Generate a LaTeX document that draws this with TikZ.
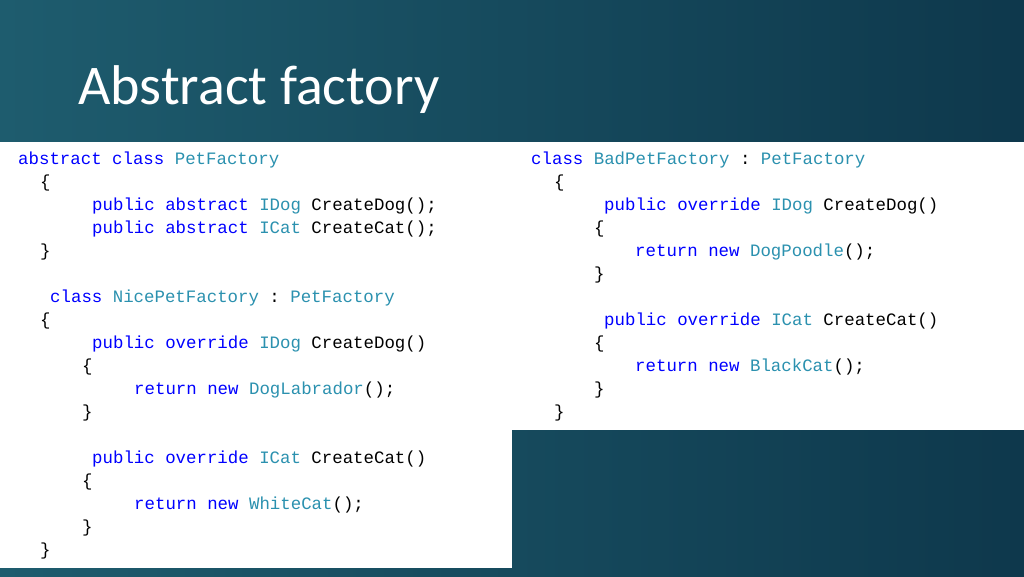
\documentclass[tikz,border=0pt]{standalone}
\usepackage{fontspec}
\setmainfont{Carlito}
\setmonofont{Liberation Mono}
\usepackage{xcolor}
\definecolor{kwblue}{RGB}{0,0,255}
\definecolor{tyteal}{RGB}{43,145,175}
\definecolor{bgleft}{RGB}{30,92,110}
\definecolor{bgright}{RGB}{14,56,76}
\newcommand{\kw}[1]{\textcolor{kwblue}{#1}}
\newcommand{\ty}[1]{\textcolor{tyteal}{#1}}
\tikzset{
  codeline/.style={anchor=base west, inner sep=0pt, font=\ttfamily\fontsize{17.4}{20}\selectfont},
}
\begin{document}
\begin{tikzpicture}[x=1pt,y=-1pt]
% background
\shade[left color=bgleft, right color=bgright] (0,0) rectangle (1024,576);
\useasboundingbox (0,0) rectangle (1024,576);
% white panels
\fill[white] (0,142) rectangle (512,568);
\fill[white] (512,142) rectangle (1024,430);
% title
\node[anchor=base west, inner sep=0pt, text=white, font=\fontsize{56}{60}\selectfont] (title) at (78,104) {Abstract factory};

% left panel
\node[codeline] (l1) at (18,164) {\kw{abstract class} \ty{PetFactory}};
\node[codeline] (l2) at (40,187) {\{};
\node[codeline] (l3) at (92,210) {\kw{public abstract} \ty{IDog} CreateDog();};
\node[codeline] (l4) at (92,233) {\kw{public abstract} \ty{ICat} CreateCat();};
\node[codeline] (l5) at (40,256) {\}};
\node[codeline] (l6) at (50,302) {\kw{class} \ty{NicePetFactory} : \ty{PetFactory}};
\node[codeline] (l7) at (40,325) {\{};
\node[codeline] (l8) at (92,348) {\kw{public override} \ty{IDog} CreateDog()};
\node[codeline] (l9) at (82,371) {\{};
\node[codeline] (l10) at (134,394) {\kw{return new} \ty{DogLabrador}();};
\node[codeline] (l11) at (82,417) {\}};
\node[codeline] (l12) at (92,463) {\kw{public override} \ty{ICat} CreateCat()};
\node[codeline] (l13) at (82,486) {\{};
\node[codeline] (l14) at (134,509) {\kw{return new} \ty{WhiteCat}();};
\node[codeline] (l15) at (82,532) {\}};
\node[codeline] (l16) at (40,555) {\}};

% right panel
\node[codeline] (r1) at (531,164) {\kw{class} \ty{BadPetFactory} : \ty{PetFactory}};
\node[codeline] (r2) at (554,187) {\{};
\node[codeline] (r3) at (604,210) {\kw{public override} \ty{IDog} CreateDog()};
\node[codeline] (r4) at (594,233) {\{};
\node[codeline] (r5) at (635,256) {\kw{return new} \ty{DogPoodle}();};
\node[codeline] (r6) at (594,279) {\}};
\node[codeline] (r7) at (604,325) {\kw{public override} \ty{ICat} CreateCat()};
\node[codeline] (r8) at (594,348) {\{};
\node[codeline] (r9) at (635,371) {\kw{return new} \ty{BlackCat}();};
\node[codeline] (r10) at (594,394) {\}};
\node[codeline] (r11) at (554,417) {\}};
\end{tikzpicture}
\end{document}
